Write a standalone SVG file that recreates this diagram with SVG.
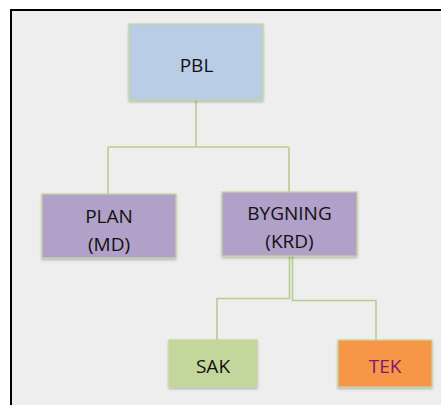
<svg xmlns="http://www.w3.org/2000/svg" width="441" height="405" viewBox="0 0 441 405">
<defs>
<style>
.box{stroke:#C3D69B;stroke-width:1.2}
.lbl{font-family:"Open Sans","Liberation Sans",sans-serif;font-size:19px;text-anchor:middle;fill:#111}
.con{fill:none;stroke:#B7CD8E;stroke-width:1.6}
</style>
<filter id="sh" x="-5%" y="-5%" width="115%" height="120%">
<feDropShadow dx="0" dy="1.5" stdDeviation="0.8" flood-color="#000" flood-opacity="0.25"/>
</filter>
</defs>
<rect x="0" y="0" width="441" height="405" fill="#FFFFFF"/>
<rect x="11" y="10" width="440" height="410" fill="#EEEEEE" stroke="#000" stroke-width="2"/>
<g id="connectors">
<path class="con" d="M196,100 V147 M108,147 H289 M108,147 V194 M289,147 V192"/>
<path class="con" d="M289.5,256 V298.5 H217 V340"/>
<path class="con" d="M292.5,256 V300.5 H376 V340"/>
</g>
<g id="pbl">
<rect class="box" x="129" y="24" width="134" height="76" fill="#B9CDE5" filter="url(#sh)"/>
<text class="lbl" x="196.5" y="72">PBL</text>
</g>
<g id="plan">
<rect class="box" x="42" y="194" width="134" height="64" fill="#B1A0C7" filter="url(#sh)"/>
<text class="lbl" x="109" y="222.5">PLAN</text>
<text class="lbl" x="109" y="250.5">(MD)</text>
</g>
<g id="bygning">
<rect class="box" x="222" y="192" width="135" height="64" fill="#B1A0C7" filter="url(#sh)"/>
<text class="lbl" x="289.5" y="220">BYGNING</text>
<text class="lbl" x="289.5" y="248">(KRD)</text>
</g>
<g id="sak">
<rect class="box" x="169" y="340" width="88" height="47" fill="#C3D69B" filter="url(#sh)"/>
<text class="lbl" x="213" y="373">SAK</text>
</g>
<g id="tek">
<rect class="box" x="338" y="340" width="94" height="47" fill="#F79646" filter="url(#sh)"/>
<text class="lbl" x="385" y="373" style="fill:#7A1A78">TEK</text>
</g>
</svg>
